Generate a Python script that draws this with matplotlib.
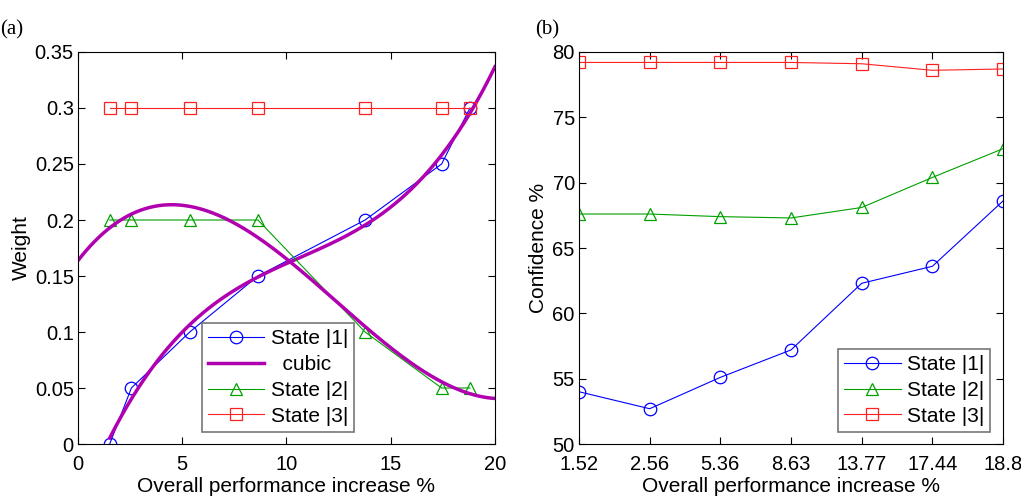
import numpy as np
import matplotlib.pyplot as plt

# data
perf = [1.52, 2.56, 5.36, 8.63, 13.77, 17.44, 18.8]
perf_labels = ['1.52', '2.56', '5.36', '8.63', '13.77', '17.44', '18.8']

weight_s1 = [0.0, 0.05, 0.10, 0.15, 0.20, 0.25, 0.30]
weight_s2 = [0.20, 0.20, 0.20, 0.20, 0.10, 0.05, 0.05]
weight_s3 = [0.30, 0.30, 0.30, 0.30, 0.30, 0.30, 0.30]

conf_s1 = [54.0, 52.7, 55.1, 57.2, 62.3, 63.6, 68.6]
conf_s2 = [67.6, 67.6, 67.4, 67.3, 68.1, 70.4, 72.6]
conf_s3 = [79.2, 79.2, 79.2, 79.2, 79.1, 78.6, 78.7]

blue = '#0000ff'
green = '#00a000'
red = '#ff2020'
magenta = '#b000b0'

plt.rcParams['font.family'] = ['Liberation Sans', 'DejaVu Sans']
fs = 15

fig = plt.figure(figsize=(10.21, 4.99), dpi=100)
ax1 = fig.add_axes([0.0764, 0.1102, 0.4084, 0.7856])
ax2 = fig.add_axes([0.5671, 0.1102, 0.4153, 0.7856])

mk = dict(markersize=9, markerfacecolor='none', markeredgewidth=0.9)
legkw = dict(fontsize=fs, handlelength=2.7, fancybox=False, edgecolor='#555555',
             borderpad=0.3, labelspacing=0.33, handletextpad=0.3, borderaxespad=0.2)

# (a) weights with cubic fits
x = np.array(perf)
ax1.plot(perf, weight_s1, '-o', color=blue, lw=0.8, label='State |1|', **mk)
p1 = np.polyfit(x, weight_s1, 3)
xf1 = np.linspace(perf[0], 20, 200)
ax1.plot(xf1, np.polyval(p1, xf1), color=magenta, lw=2.5, label='  cubic')
ax1.plot(perf, weight_s2, '-^', color=green, lw=0.8, label='State |2|', **mk)
p2 = np.polyfit(x, weight_s2, 3)
xf2 = np.linspace(0, 20, 200)
ax1.plot(xf2, np.polyval(p2, xf2), color=magenta, lw=2.5)
ax1.plot(perf, weight_s3, '-s', color=red, lw=0.8, label='State |3|', **mk)

ax1.set_xlim(0, 20)
ax1.set_ylim(0, 0.35)
ax1.set_xticks([0, 5, 10, 15, 20])
ax1.set_yticks([0, 0.05, 0.1, 0.15, 0.2, 0.25, 0.3, 0.35])
ax1.set_yticklabels(['0', '0.05', '0.1', '0.15', '0.2', '0.25', '0.3', '0.35'])
ax1.set_xlabel('Overall performance increase %', fontsize=fs, labelpad=2)
ax1.set_ylabel('Weight', fontsize=fs, labelpad=3)
leg1 = ax1.legend(loc='lower center', bbox_to_anchor=(0.48, 0.02), **legkw)
leg1.get_frame().set_linewidth(1.2)

# (b) confidence
idx = np.arange(len(perf))
ax2.plot(idx, conf_s1, '-o', color=blue, lw=0.8, label='State |1|', **mk)
ax2.plot(idx, conf_s2, '-^', color=green, lw=0.8, label='State |2|', **mk)
ax2.plot(idx, conf_s3, '-s', color=red, lw=0.8, label='State |3|', **mk)
ax2.set_xlim(0, 6)
ax2.set_ylim(50, 80)
ax2.set_xticks(idx)
ax2.set_xticklabels(perf_labels)
ax2.set_yticks([50, 55, 60, 65, 70, 75, 80])
ax2.set_xlabel('Overall performance increase %', fontsize=fs, labelpad=2)
ax2.set_ylabel('Confidence %', fontsize=fs, labelpad=3)
leg2 = ax2.legend(loc='lower right', bbox_to_anchor=(0.98, 0.02), **legkw)
leg2.get_frame().set_linewidth(1.2)

for ax in (ax1, ax2):
    ax.tick_params(direction='in', top=True, right=True, labelsize=14.5,
                   length=5, width=0.8)
    ax.tick_params(axis='x', pad=8)
    ax.tick_params(axis='y', pad=3)
    for s in ax.spines.values():
        s.set_linewidth(0.8)

fig.text(0.0, 0.93, '(a)', fontsize=15, family='Liberation Serif')
fig.text(0.524, 0.93, '(b)', fontsize=15, family='Liberation Serif')

fig.savefig('out.png', dpi=100)
